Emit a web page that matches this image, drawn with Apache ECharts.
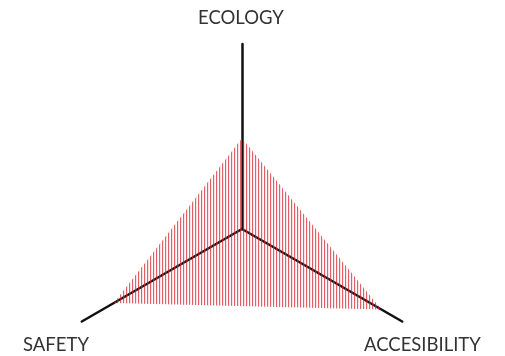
<!DOCTYPE html>
<html>
<head>
<meta charset="utf-8">
<script src="https://cdn.jsdelivr.net/npm/echarts@6/dist/echarts.min.js"></script>
<style>
  html, body { margin: 0; padding: 0; background: #fff; }
  #chart { width: 505px; height: 356px; }
</style>
</head>
<body>
<div id="chart"></div>
<script>
// indicators and values (scale 0..10), counter-clockwise from the top
var indicators = ['ECOLOGY', 'SAFETY', 'ACCESIBILITY'];
var maxValues = [10, 10, 10];
var scores = [4.9, 8.0, 8.7];

// vertical hatching pattern for the filled area
var hatch = document.createElement('canvas');
hatch.width = 3;
hatch.height = 3;
var ctx = hatch.getContext('2d');
ctx.fillStyle = 'rgba(212,35,45,0.72)';
ctx.fillRect(0, 0, 1, 3);
ctx.fillStyle = 'rgba(235,140,145,0.25)';
ctx.fillRect(1, 0, 1, 3);

var myChart = echarts.init(document.getElementById('chart'));
var labelStyle = { fill: '#333', font: '18.5px Lato', textVerticalAlign: 'middle' };
var option =
{
    animation : false,
    radar :
    {
        center : [242, 229],
        radius : 185,
        startAngle : 90,
        indicator : indicators.map(function (n, i) { return { name : n, max : maxValues[i] }; }),
        axisName : { show : false },
        splitNumber : 1,
        axisLine : { lineStyle : { color : '#111', width : 2.5 } },
        splitLine : { show : false },
        splitArea : { show : false }
    },
    graphic : [
        { type : 'text', left : 198, top : 9, style : Object.assign({ text : indicators[0] }, labelStyle) },
        { type : 'text', left : 23, top : 336, style : Object.assign({ text : indicators[1] }, labelStyle) },
        { type : 'text', left : 364, top : 336, style : Object.assign({ text : indicators[2] }, labelStyle) }
    ],
    series : [
        {
            type : 'radar',
            symbol : 'none',
            lineStyle : { width : 0 },
            areaStyle : { color : { image : hatch, repeat : 'repeat' }, opacity : 1 },
            data : [ { value : scores } ]
        }
    ]
};
myChart.setOption(option);
</script>
</body>
</html>
